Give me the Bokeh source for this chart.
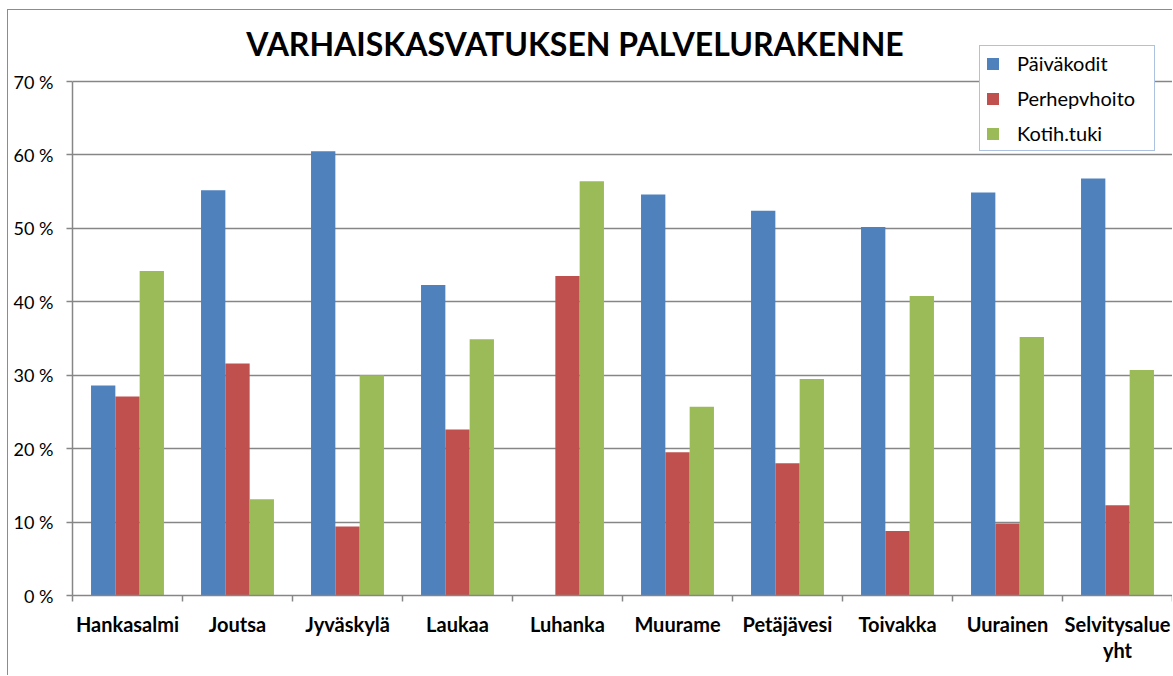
import numpy as np
from bokeh.plotting import figure
from bokeh.models import (ColumnDataSource, Range1d, FixedTicker, PrintfTickFormatter,
                          Legend, LegendItem, Label)
from bokeh.transform import dodge
from bokeh.embed import file_html
from bokeh.resources import INLINE

categories = ["Hankasalmi", "Joutsa", "Jyväskylä", "Laukaa", "Luhanka", "Muurame",
              "Petäjävesi", "Toivakka", "Uurainen", "Selvitysalue\nyht"]
paivakodit = [28.6, 55.2, 60.5, 42.3, 0.0, 54.6, 52.4, 50.2, 54.9, 56.8]
perhepvhoito = [27.1, 31.6, 9.4, 22.6, 43.5, 19.5, 18.0, 8.8, 9.8, 12.3]
kotihtuki = [44.2, 13.1, 30.0, 34.9, 56.4, 25.7, 29.5, 40.8, 35.2, 30.7]
series_names = ["Päiväkodit", "Perhepvhoito", "Kotih.tuki"]
y_ticks = [0, 10, 20, 30, 40, 50, 60, 70]
title_text = "VARHAISKASVATUKSEN PALVELURAKENNE"

colors = ["#4F81BD", "#C0504D", "#9BBB59"]
FONT = "Lato"

# layout (pixels)
frame_top_px, axis_top_px, axis_bottom_px = 12, 81, 595
px_per_unit = (axis_bottom_px - axis_top_px) / 70.0
y_top = (axis_bottom_px - frame_top_px) / px_per_unit

xpos = [i + 0.5 for i in range(len(categories))]
src = ColumnDataSource(dict(x=xpos, a=paivakodit, b=perhepvhoito, c=kotihtuki))

p = figure(width=1165, height=666, output_backend="svg", toolbar_location=None,
           title=None,
           x_range=Range1d(0, len(categories)), y_range=Range1d(0, y_top),
           min_border_left=64, min_border_right=1, min_border_top=2, min_border_bottom=81)
p.styles = {"border-top": "1px solid #8c8c8c", "border-left": "1px solid #8c8c8c",
            "margin-left": "7px", "margin-top": "9px"}
p.outline_line_color = None
p.background_fill_color = "white"
p.border_fill_color = "white"

w = 0.221
rs = []
for key, off, col in zip(["a", "b", "c"], [-w, 0.0, w], colors):
    r = p.vbar(x=dodge("x", off, range=p.x_range), top=key, width=w, source=src,
               fill_color=col, line_color=None)
    rs.append(r)

# title as text inside the (extended) frame
title_y = (axis_bottom_px - 42.5) / px_per_unit
p.add_layout(Label(x=(574.5 - 72) / 110.0, y=title_y, text=title_text,
                   text_font=FONT, text_font_size="32px", text_font_style="bold",
                   text_color="black", text_align="center", text_baseline="alphabetic"))

# y axis
p.yaxis.bounds = (0, 70)
p.yaxis.ticker = FixedTicker(ticks=y_ticks)
p.yaxis.formatter = PrintfTickFormatter(format="%d %%")
p.yaxis.axis_line_color = "#868686"
p.yaxis.axis_line_width = 1.5
p.yaxis.major_tick_line_color = "#868686"
p.yaxis.major_tick_line_width = 1.5
p.yaxis.major_tick_in = 0
p.yaxis.major_tick_out = 6
p.yaxis.minor_tick_line_color = None
p.yaxis.major_label_text_font = FONT
p.yaxis.major_label_text_font_size = "18px"
p.yaxis.major_label_text_color = "black"
p.yaxis.major_label_standoff = 13

# x axis
p.xaxis.ticker = FixedTicker(ticks=xpos, minor_ticks=list(range(len(categories) + 1)))
p.xaxis.major_label_overrides = {x: c for x, c in zip(xpos, categories)}
p.xaxis.axis_line_color = "#868686"
p.xaxis.axis_line_width = 1.5
p.xaxis.major_tick_line_color = None
p.xaxis.major_tick_in = 0
p.xaxis.major_tick_out = 0
p.xaxis.minor_tick_line_color = "#868686"
p.xaxis.minor_tick_line_width = 1.5
p.xaxis.minor_tick_in = 0
p.xaxis.minor_tick_out = 6
p.xaxis.major_label_text_font = FONT
p.xaxis.major_label_text_font_size = "20px"
p.xaxis.major_label_text_font_style = "bold"
p.xaxis.major_label_text_color = "black"
p.xaxis.major_label_text_line_height = 1.1
p.xaxis.major_label_standoff = 10

# grid
p.xgrid.grid_line_color = None
p.ygrid.ticker = FixedTicker(ticks=y_ticks)
p.ygrid.grid_line_color = "#868686"
p.ygrid.grid_line_width = 1.5

legend = Legend(items=[LegendItem(label=n, renderers=[r]) for n, r in zip(series_names, rs)],
                location=(907, 444))
legend.border_line_color = "#5B86C0"
legend.border_line_width = 1.5
legend.background_fill_color = "white"
legend.background_fill_alpha = 1
legend.label_text_font = FONT
legend.label_text_font_size = "20px"
legend.label_text_color = "black"
legend.glyph_width = 15
legend.glyph_height = 15
legend.label_standoff = 17
legend.label_height = 20
legend.spacing = 11
legend.padding = 5
legend.margin = 0
legend.label_width = 132
p.add_layout(legend, "center")

open("out.html", "w").write(file_html(p, INLINE))
